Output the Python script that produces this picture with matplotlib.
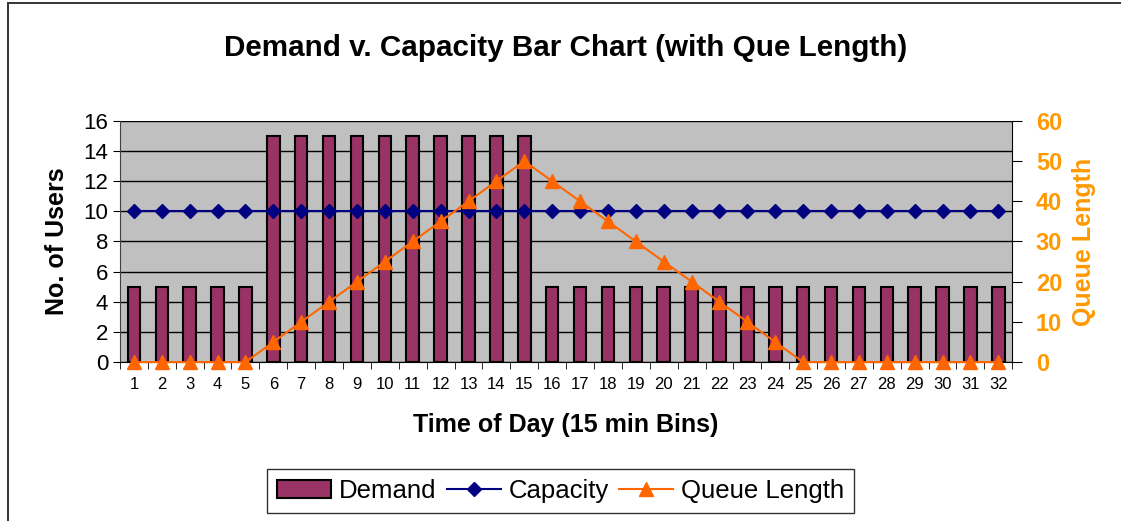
import matplotlib
matplotlib.use("Agg")
import matplotlib.pyplot as plt
from matplotlib.patches import Rectangle
from matplotlib.ticker import MultipleLocator, FixedLocator

plt.rcParams['font.family'] = ['Liberation Sans', 'DejaVu Sans']

bins = list(range(1, 33))
demand = [5]*5 + [15]*10 + [5]*17
capacity = [10]*32
queue = [0, 0, 0, 0, 0, 5, 10, 15, 20, 25, 30, 35, 40, 45, 50,
         45, 40, 35, 30, 25, 20, 15, 10, 5, 0, 0, 0, 0, 0, 0, 0, 0]

fig = plt.figure(figsize=(11.21, 5.21), dpi=100)
fig.patches.append(Rectangle((0.0067, -0.05), 1.1, 1.0433, transform=fig.transFigure,
                             fill=False, edgecolor='#333333', linewidth=1.4))
ax = fig.add_axes([0.107, 0.305, 0.796, 0.463])
ax.set_facecolor('#C0C0C0')
ax.bar(bins, demand, width=0.45, color='#993366', edgecolor='black', linewidth=1.5,
       label='Demand', zorder=2)
ax.plot(bins, capacity, color='#000080', marker='D', markersize=7, linewidth=1.5,
        label='Capacity', zorder=3)
ax.set_xlim(0.5, 32.5)
ax.set_ylim(0, 16)
ax.yaxis.set_major_locator(MultipleLocator(2))
ax.grid(axis='y', color='black', linewidth=1, zorder=1)
ax.set_axisbelow(True)
ax.set_xticks(bins)
ax.set_xticklabels([str(b) for b in bins], fontsize=12)
ax.tick_params(axis='x', which='major', length=0, pad=11)
ax.xaxis.set_minor_locator(FixedLocator([b + 0.5 for b in range(0, 33)]))
ax.tick_params(axis='x', which='minor', length=5, direction='out')
ax.tick_params(axis='y', labelsize=16, length=5, direction='out')
for s in ['top', 'right']:
    ax.spines[s].set_visible(False)
ax.spines['left'].set_color('#404040')
ax.set_ylabel('No. of Users', fontsize=18, fontweight='bold', labelpad=10)
ax.set_xlabel('Time of Day (15 min Bins)', fontsize=18, fontweight='bold', labelpad=15)
ax.set_title('Demand v. Capacity Bar Chart (with Que Length)', fontsize=21.3,
             fontweight='bold', pad=47)

ax2 = ax.twinx()
ax2.plot(bins, queue, color='#FF6600', marker='^', markersize=10, linewidth=1.5,
         label='Queue Length', zorder=4, clip_on=False)
ax2.set_ylim(0, 60)
ax2.yaxis.set_major_locator(MultipleLocator(10))
ax2.tick_params(axis='y', labelsize=17, labelcolor='#FF9900', length=7, direction='out',
                pad=10)
for lbl in ax2.get_yticklabels():
    lbl.set_fontweight('bold')
for s in ['top', 'left', 'bottom']:
    ax2.spines[s].set_visible(False)
ax2.set_ylabel('Queue Length', fontsize=18, fontweight='bold', color='#FF9900', labelpad=7)

h1, l1 = ax.get_legend_handles_labels()
h2, l2 = ax2.get_legend_handles_labels()
handles = [h1[l1.index('Demand')], h1[l1.index('Capacity')], h2[0]]
labels = ['Demand', 'Capacity', 'Queue Length']
fig.legend(handles, labels, loc='center', bbox_to_anchor=(0.5, 0.058), ncol=3,
           fontsize=18.5, frameon=True, fancybox=False, edgecolor='black',
           handlelength=2.1, columnspacing=0.4, handletextpad=0.3, borderpad=0.4)

fig.savefig('out.png', dpi=100)
